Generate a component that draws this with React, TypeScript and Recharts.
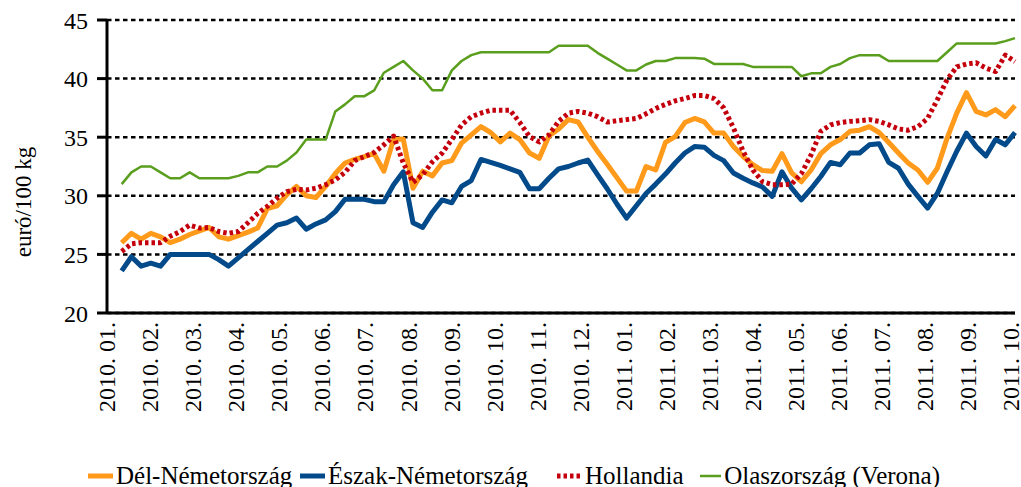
import { LineChart, Line, XAxis, YAxis, CartesianGrid, Legend } from "recharts";

const FONT = '"Liberation Serif", "DejaVu Serif", serif';

const monthLabels = [
  "2010. 01.", "2010. 02.", "2010. 03.", "2010. 04.", "2010. 05.", "2010. 06.",
  "2010. 07.", "2010. 08.", "2010. 09.", "2010. 10.", "2010. 11.", "2010. 12.",
  "2011. 01.", "2011. 02.", "2011. 03.", "2011. 04.", "2011. 05.", "2011. 06.",
  "2011. 07.", "2011. 08.", "2011. 09.", "2011. 10.",
];

// weekly prices, euró/100 kg
const delNemet = [
  26.0, 26.8, 26.3, 26.8, 26.5, 26.0, 26.3, 26.7, 27.0, 27.3,
  26.5, 26.3, 26.6, 26.9, 27.25, 28.9, 29.15, 30.1, 30.8, 30.0,
  29.85, 30.8, 31.9, 32.8, 33.1, 33.35, 33.6, 32.1, 34.8, 34.85,
  30.65, 32.1, 31.7, 32.8, 33.0, 34.5, 35.2, 35.9, 35.4, 34.6,
  35.35, 34.8, 33.65, 33.2, 35.1, 35.7, 36.5, 36.3, 35.0, 33.8,
  32.7, 31.55, 30.4, 30.4, 32.5, 32.2, 34.55, 35.05, 36.25, 36.6,
  36.3, 35.35, 35.35, 34.2, 33.35, 32.65, 32.15, 32.1, 33.6, 31.95,
  31.2, 32.2, 33.6, 34.35, 34.8, 35.5, 35.6, 35.9, 35.4, 34.55,
  33.65, 32.8, 32.2, 31.15, 32.35, 34.9, 37.05, 38.8, 37.2, 36.9,
  37.35, 36.75, 37.7,
];

const eszakNemet = [
  23.6, 24.8, 24.0, 24.25, 24.0, 25.0, 25.0, 25.0, 25.0, 25.0,
  24.55, 24.0, 24.7, 25.4, 26.1, 26.8, 27.5, 27.7, 28.1, 27.15,
  27.6, 27.95, 28.65, 29.7, 29.7, 29.7, 29.5, 29.5, 30.95, 32.05,
  27.7, 27.3, 28.6, 29.65, 29.4, 30.8, 31.3, 33.1, 32.85, 32.6,
  32.3, 32.0, 30.6, 30.6, 31.5, 32.3, 32.5, 32.8, 33.05, 31.8,
  30.6, 29.3, 28.1, 29.15, 30.2, 31.0, 31.85, 32.8, 33.65, 34.2,
  34.15, 33.45, 33.0, 31.95, 31.5, 31.1, 30.75, 29.95, 32.05, 30.65,
  29.65, 30.6, 31.65, 32.85, 32.65, 33.65, 33.65, 34.35, 34.45, 32.85,
  32.35, 31.0, 29.95, 28.95, 30.2, 32.05, 33.8, 35.35, 34.2, 33.4,
  34.8, 34.35, 35.4,
];

const hollandia = [
  25.25, 25.9, 26.0, 26.0, 26.0, 26.55, 26.95, 27.5, 27.25, 27.3,
  26.95, 26.8, 26.95, 27.7, 28.5, 29.1, 29.8, 30.35, 30.55, 30.5,
  30.65, 30.95, 31.35, 32.0, 33.0, 33.35, 33.7, 34.35, 35.1, 32.8,
  31.15, 31.8, 32.9, 33.65, 34.8, 36.05, 36.75, 37.05, 37.3, 37.3,
  37.3, 36.25, 35.05, 34.6, 35.2, 36.35, 37.05, 37.2, 37.05, 36.75,
  36.3, 36.4, 36.5, 36.6, 37.0, 37.45, 37.8, 38.1, 38.3, 38.55,
  38.55, 38.3, 37.5, 35.8, 33.8, 32.2, 31.2, 30.95, 30.95, 31.0,
  31.9, 33.5, 35.5, 36.05, 36.25, 36.35, 36.4, 36.5, 36.35, 36.05,
  35.7, 35.6, 35.9, 36.6, 38.2, 39.9, 41.0, 41.25, 41.35, 40.9,
  40.6, 42.0, 41.45,
];

const olaszVerona = [
  31.0, 32.0, 32.5, 32.5, 32.0, 31.5, 31.5, 32.0, 31.5, 31.5,
  31.5, 31.5, 31.7, 32.0, 32.0, 32.5, 32.5, 33.0, 33.7, 34.8,
  34.8, 34.8, 37.2, 37.8, 38.5, 38.5, 39.0, 40.5, 41.0, 41.5,
  40.7, 40.0, 39.0, 39.0, 40.7, 41.5, 42.0, 42.25, 42.25, 42.25,
  42.25, 42.25, 42.25, 42.25, 42.25, 42.8, 42.8, 42.8, 42.8, 42.2,
  41.7, 41.2, 40.7, 40.7, 41.2, 41.5, 41.5, 41.75, 41.75, 41.75,
  41.7, 41.25, 41.25, 41.25, 41.25, 41.0, 41.0, 41.0, 41.0, 41.0,
  40.2, 40.45, 40.45, 41.0, 41.25, 41.75, 42.0, 42.0, 42.0, 41.5,
  41.5, 41.5, 41.5, 41.5, 41.5, 42.25, 43.0, 43.0, 43.0, 43.0,
  43.0, 43.2, 43.45,
];

const yTicks = [20, 25, 30, 35, 40, 45];

const series = [
  { key: "del", name: "Dél-Németország", color: "#FF9A1A", width: 5, dash: undefined },
  { key: "eszak", name: "Észak-Németország", color: "#024A8A", width: 5, dash: undefined },
  { key: "holl", name: "Hollandia", color: "#C4000C", width: 5, dash: "3.5 3" },
  { key: "olasz", name: "Olaszország (Verona)", color: "#5A9E1E", width: 2.5, dash: undefined },
];

const data = delNemet.map((v, i) => ({
  week: i,
  del: v,
  eszak: eszakNemet[i],
  holl: hollandia[i],
  olasz: olaszVerona[i],
}));

// month label positions on the weekly axis
const FIRST_TICK = -1.514;
const WEEKS_PER_MONTH = 4.434;
const monthTicks = monthLabels.map((_, i) => FIRST_TICK + i * WEEKS_PER_MONTH);

const MonthTick = ({ x, y, payload }: any) => {
  const idx = Math.round((payload.value - FIRST_TICK) / WEEKS_PER_MONTH);
  const ty = y + 9;
  return (
    <text
      x={x}
      y={ty}
      dy="0.34em"
      transform={`rotate(-90 ${x} ${ty})`}
      textAnchor="end"
      style={{ fontFamily: FONT, fontSize: 24 }}
      fill="#000"
    >
      {monthLabels[idx]}
    </text>
  );
};

const YTitle = () => (
  <text
    x={31}
    y={202}
    transform="rotate(-90 31 202)"
    textAnchor="middle"
    style={{ fontFamily: FONT, fontSize: 23 }}
    fill="#000"
  >
    euró/100 kg
  </text>
);

const itemWidths = [212, 257, 143, 240];

const LegendBox = () => (
  <div
    style={{
      display: "flex",
      alignItems: "center",
      height: 28,
      paddingLeft: 88,
      fontFamily: FONT,
      fontSize: 25,
      lineHeight: "28px",
      color: "#000",
      whiteSpace: "nowrap",
    }}
  >
    {series.map((s, i) => (
      <div key={s.key} style={{ display: "flex", alignItems: "center", width: itemWidths[i] }}>
        <svg width={25} height={8} style={{ display: "block" }}>
          <line
            x1={0}
            y1={4}
            x2={25}
            y2={4}
            stroke={s.color}
            strokeWidth={s.width}
            strokeDasharray={s.dash}
          />
        </svg>
        <span style={{ marginLeft: 3 }}>{s.name}</span>
      </div>
    ))}
  </div>
);

export default function App() {
  return (
    <div style={{ width: 1021, height: 487, fontFamily: FONT }}>
      <style>{`body{margin:0}`}</style>
      <LineChart
        width={1021}
        height={487}
        data={data}
        margin={{ top: 20, right: 6, left: 0, bottom: 0 }}
        style={{ fontFamily: FONT }}
      >
        <CartesianGrid
          vertical={false}
          stroke="#000"
          strokeWidth={2.5}
          strokeDasharray="4.5 3.5"
        />
        <XAxis
          dataKey="week"
          type="number"
          domain={[FIRST_TICK, 92]}
          ticks={monthTicks}
          interval={0}
          height={146}
          tickLine={false}
          tickSize={0}
          tickMargin={0}
          axisLine={{ stroke: "#000", strokeWidth: 3 }}
          tick={<MonthTick />}
        />
        <YAxis
          domain={[20, 45]}
          ticks={yTicks}
          width={107}
          tickSize={10}
          tickMargin={9}
          axisLine={{ stroke: "#000", strokeWidth: 3 }}
          tickLine={{ stroke: "#000", strokeWidth: 3 }}
          tick={{ style: { fontFamily: FONT, fontSize: 24 }, fill: "#000" }}
          label={<YTitle />}
        />
        <Legend
          verticalAlign="bottom"
          align="left"
          content={<LegendBox />}
          wrapperStyle={{ left: 0, bottom: -3, width: 1021, height: 28 }}
        />
        {series.map((s) => (
          <Line
            key={s.key}
            dataKey={s.key}
            name={s.name}
            stroke={s.color}
            strokeWidth={s.width}
            strokeDasharray={s.dash}
            strokeLinejoin="round"
            dot={false}
            activeDot={false}
            isAnimationActive={false}
          />
        ))}
      </LineChart>
    </div>
  );
}
